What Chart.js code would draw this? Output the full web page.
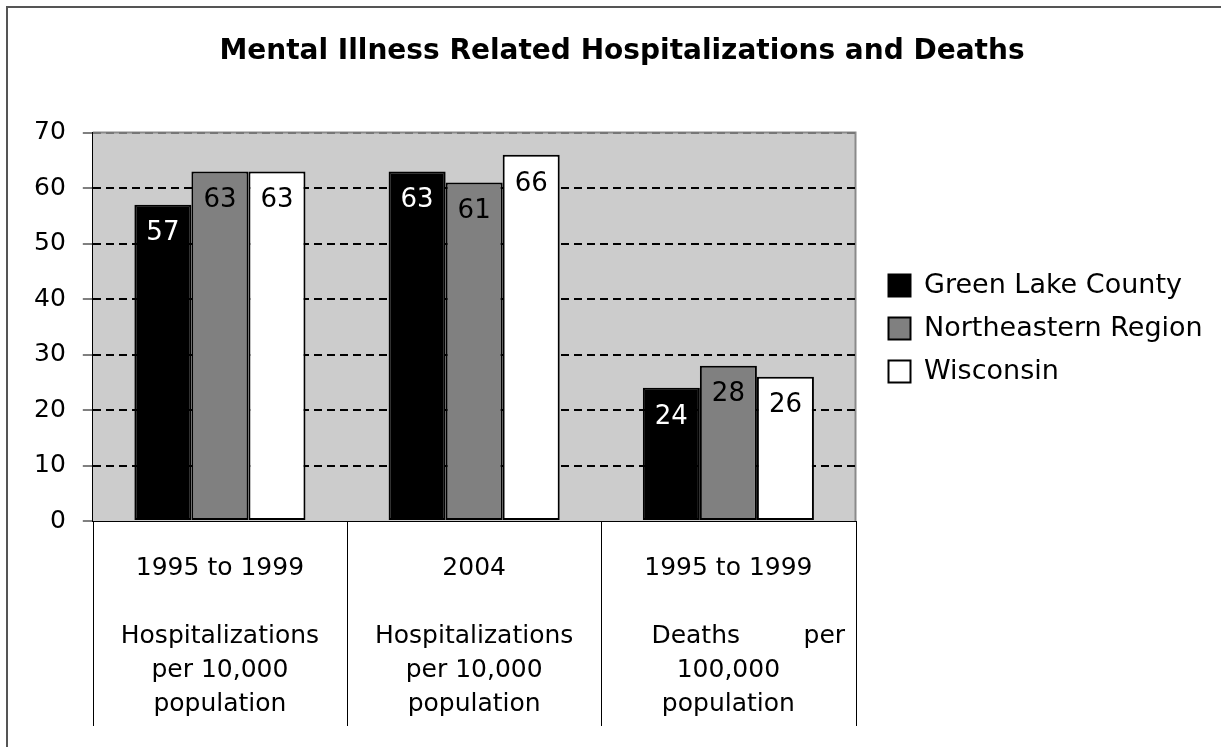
<!DOCTYPE html>
<html>
<head>
<meta charset="utf-8">
<script src="https://cdn.jsdelivr.net/npm/chart.js@4.4.1/dist/chart.umd.min.js"></script>
<style>
  html, body { margin: 0; padding: 0; background: #fff; }
  #wrap { position: relative; width: 1221px; height: 747px; }
  #frame { position: absolute; left: 6px; top: 6px; right: 0; bottom: 0;
           border-left: 2px solid #555; border-top: 2px solid #555; }
  canvas { position: absolute; left: 0; top: 0; }
</style>
</head>
<body>
<div id="wrap">
  <div id="frame"></div>
  <canvas id="mentalChart" width="1221" height="747"></canvas>
</div>
<script>
let categories = [
    ['1995 to 1999', '', 'Hospitalizations', 'per 10,000', 'population'],
    ['2004', '', 'Hospitalizations', 'per 10,000', 'population'],
    ['1995 to 1999', '', '     Deaths        per', '100,000', 'population']
];
let greenLake = [57, 63, 24];
let northeastern = [63, 61, 28];
let wisconsin = [63, 66, 26];
let yTicks = [0, 10, 20, 30, 40, 50, 60, 70];

const font = 'DejaVu Sans';

// grey plot background + grey frame, drawn before the grid
const plotBackground = {
    id: 'plotBackground',
    beforeDraw(chart) {
        const {ctx, chartArea: a} = chart;
        ctx.save();
        ctx.fillStyle = '#cccccc';
        ctx.fillRect(a.left, a.top, a.right - a.left, a.bottom - a.top);
        ctx.strokeStyle = '#8a8a8a';
        ctx.lineWidth = 2;
        ctx.beginPath();
        ctx.moveTo(a.left, a.top);
        ctx.lineTo(a.right, a.top);
        ctx.lineTo(a.right, a.bottom);
        ctx.stroke();
        ctx.restore();
    }
};

// vertical lines between the category labels, below the axis
const categoryDividers = {
    id: 'categoryDividers',
    afterDraw(chart) {
        const {ctx} = chart;
        const x = chart.scales.x;
        const n = categories.length;
        const edges = [x.left];
        for (let i = 0; i < n - 1; i++) {
            edges.push((x.getPixelForValue(i) + x.getPixelForValue(i + 1)) / 2);
        }
        edges.push(x.right);
        ctx.save();
        ctx.strokeStyle = '#000';
        ctx.lineWidth = 1;
        edges.forEach(px => {
            const p = Math.round(px) + 0.5;
            ctx.beginPath();
            ctx.moveTo(p, x.top);
            ctx.lineTo(p, x.top + 205);
            ctx.stroke();
        });
        ctx.restore();
    }
};

// nudge legend and title to sit where the reference has them
const blockPlace = {
    id: 'blockPlace',
    afterLayout(chart) {
        const lg = chart.legend;
        const h = lg.bottom - lg.top;
        lg.left = chart.chartArea.right + 17;
        lg.right = chart.width;
        lg.width = lg.right - lg.left;
        lg.top = 256;
        lg.bottom = 256 + h;

        const tb = chart.titleBlock;
        tb.left = 23;
        tb.right = chart.width;
        tb.width = tb.right - tb.left;
    }
};

// value labels inside the top of each bar
const barLabels = {
    id: 'barLabels',
    afterDatasetsDraw(chart) {
        const {ctx} = chart;
        ctx.save();
        ctx.font = '26px ' + font;
        ctx.textAlign = 'center';
        ctx.textBaseline = 'middle';
        chart.data.datasets.forEach((ds, i) => {
            chart.getDatasetMeta(i).data.forEach((bar, j) => {
                ctx.fillStyle = i === 0 ? '#ffffff' : '#000000';
                ctx.fillText(ds.data[j], bar.x, bar.y + 29);
            });
        });
        ctx.restore();
    }
};

let ctx = document.getElementById('mentalChart').getContext('2d');

let mentalChart = new Chart(ctx, {
    type: 'bar',
    data: {
        labels: categories,
        datasets: [{
            label: 'Green Lake County',
            data: greenLake,
            backgroundColor: '#000000',
        }, {
            label: 'Northeastern Region',
            data: northeastern,
            backgroundColor: '#808080',
        }, {
            label: 'Wisconsin',
            data: wisconsin,
            backgroundColor: '#ffffff',
        }]
    },
    options: {
        responsive: false,
        animation: false,
        datasets: {
            bar: {
                borderColor: '#000000',
                borderWidth: 2,
                borderSkipped: false,
                categoryPercentage: 0.673,
                barPercentage: 1,
            }
        },
        layout: {
            padding: { top: 20, left: 17, right: 86, bottom: 4 }
        },
        plugins: {
            title: {
                display: true,
                text: 'Mental Illness Related Hospitalizations and Deaths',
                color: '#000',
                font: { family: font, size: 28, weight: 'bold' },
                padding: { top: 15, bottom: 64 },
            },
            legend: {
                position: 'right',
                align: 'start',
                labels: {
                    color: '#000',
                    font: { family: font, size: 27 },
                    boxWidth: 22,
                    boxHeight: 22,
                    padding: 16,
                }
            },
            tooltip: { enabled: false },
        },
        scales: {
            y: {
                min: 0,
                max: 70,
                afterBuildTicks: (axis) => {
                    axis.ticks = yTicks.map(v => ({ value: v }));
                },
                ticks: {
                    color: '#000',
                    padding: 17,
                    font: { family: font, size: 25 },
                },
                grid: {
                    color: (c) => c.tick && c.tick.value === 70 ? '#777777' : (c.tick && c.tick.value === 0 ? 'rgba(0,0,0,0)' : '#000000'),
                    lineWidth: 2,
                    tickLength: 10,
                    tickColor: '#000',
                    tickWidth: 1,
                },
                border: {
                    color: '#000',
                    width: 1,
                    dash: [8, 5],
                }
            },
            x: {
                ticks: {
                    color: '#000',
                    padding: 22,
                    maxRotation: 0,
                    autoSkip: false,
                    font: { family: font, size: 25, lineHeight: 1.36 },
                },
                grid: {
                    display: false,
                },
                border: {
                    color: '#000',
                    width: 1,
                }
            }
        }
    },
    plugins: [plotBackground, categoryDividers, blockPlace, barLabels]
});
</script>
</body>
</html>
